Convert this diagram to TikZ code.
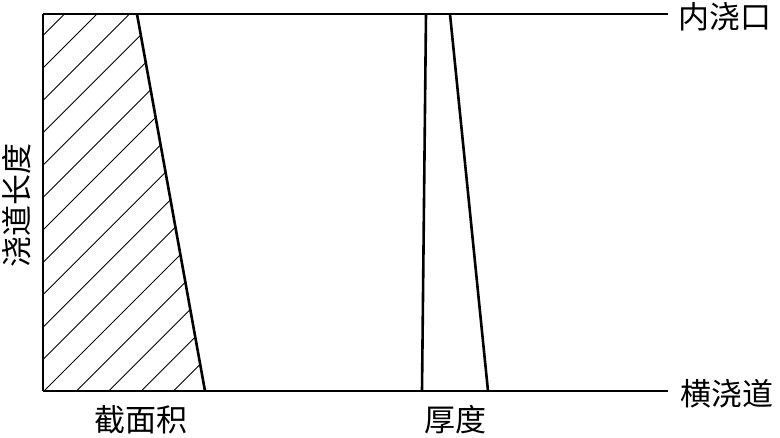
\documentclass[tikz,border=0pt]{standalone}
\usepackage{fontspec}
\newfontfamily\cjk{Noto Sans CJK SC}
\begin{document}
\begin{tikzpicture}[x=1pt,y=-1pt,
  thick line/.style={line width=2.6pt},
  hatch line/.style={line width=0.9pt},
  lbl/.style={font=\cjk\fontsize{31}{31}\selectfont, inner sep=0pt}]
\useasboundingbox (0,0) rectangle (780,437);
% corners
\coordinate (tl) at (43,14);
\coordinate (bl) at (43,391);
\coordinate (tr) at (668,14);
\coordinate (br) at (668,391);
\coordinate (ht) at (137,14);
\coordinate (hb) at (205,391);
\coordinate (at) at (426,14);
\coordinate (ab) at (422,391);
\coordinate (bt) at (450,14);
\coordinate (bb) at (488,391);
% hatching
\begin{scope}
\clip (tl) -- (ht) -- (hb) -- (bl) -- cycle;
\foreach \k in {-6,...,14} {
  \pgfmathsetmacro{\c}{435-32.4*\k}
  \draw[hatch line] (\c-400,400) -- (\c+20,-20);
}
\end{scope}
% main lines
\draw[thick line] (tl) -- (tr);
\draw[thick line] (bl) -- (br);
\draw[thick line] (tl) -- (bl);
\draw[thick line] (ht) -- (hb);
\draw[thick line] (at) -- (ab);
\draw[thick line] (bt) -- (bb);
% labels
\node[lbl] (l1) at (725,17) {内浇口};
\node[lbl] (l2) at (727,394) {横浇道};
\node[lbl] (l3) at (141,420) {截面积};
\node[lbl] (l4) at (455,420) {厚度};
\node[lbl, rotate=90] (l5) at (17,205) {浇道长度};
\end{tikzpicture}
\end{document}
